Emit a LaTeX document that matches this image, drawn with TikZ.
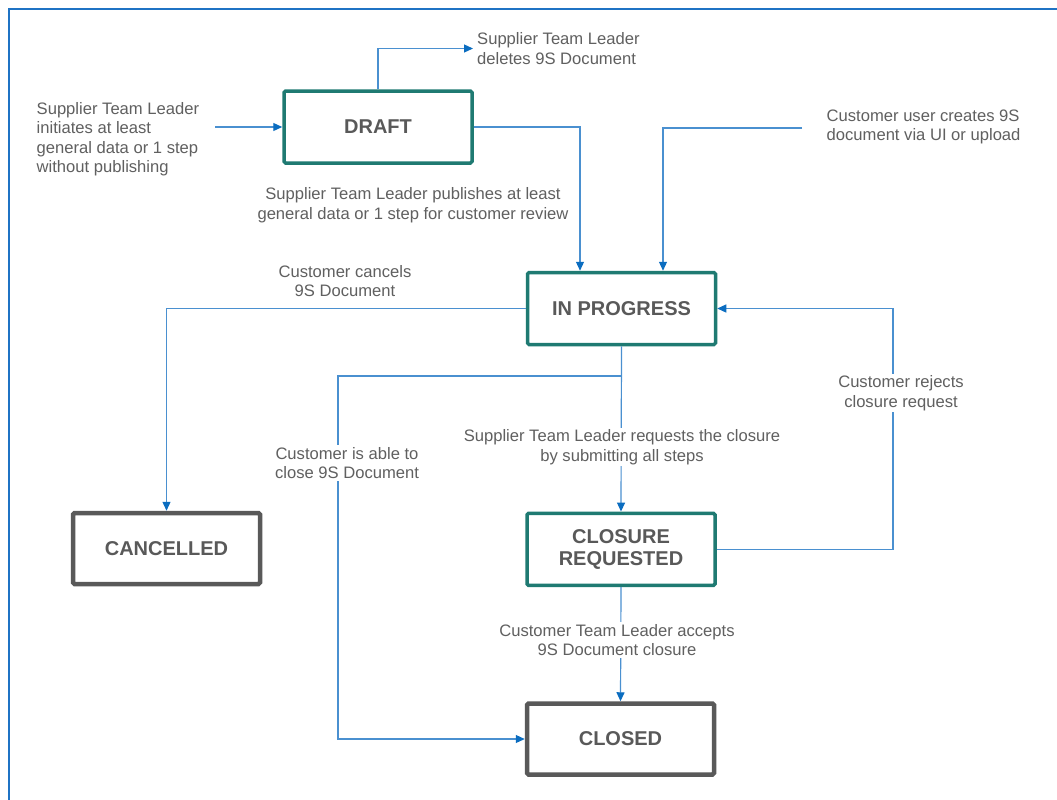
\documentclass[tikz,border=0pt]{standalone}
\usepackage{fontspec}
\setmainfont{Liberation Sans}
\usetikzlibrary{arrows.meta}
\definecolor{boxteal}{HTML}{1F7A72}
\definecolor{boxgray}{HTML}{595959}
\definecolor{titlegray}{HTML}{595959}
\definecolor{txtgray}{HTML}{606060}
\definecolor{linkblue}{HTML}{4A90D0}
\definecolor{tipblue}{HTML}{0B6DC0}
\definecolor{frameblue}{HTML}{1F73C4}
\begin{document}
\begin{tikzpicture}[x=1pt,y=-1pt,
  state/.style={draw=boxteal,line width=3.5pt,rounded corners=1.5pt,minimum width=188pt,minimum height=72pt,
    font=\fontsize{20}{23}\selectfont\bfseries,text=titlegray,align=center,inner sep=0pt},
  final/.style={state,draw=boxgray,line width=4.5pt,minimum width=187pt,minimum height=71pt},
  lbl/.style={font=\fontsize{16.6}{19.5}\selectfont,text=txtgray,align=center,inner sep=1pt},
  wlbl/.style={lbl,fill=white,inner sep=2pt},
  link/.style={draw=linkblue,line width=1.2pt,-{Triangle[length=9pt,width=8pt,color=tipblue]}}]
\useasboundingbox (0,0) rectangle (1057,800);
\fill[white] (0,0) rectangle (1057,800);
\draw[frameblue,line width=2pt] (9,801) -- (9,9.5) -- (1058,9.5);

% states
\node[state] (draft) at (378,127) {DRAFT};
\node[state] (inprog) at (621.5,308.5) {IN PROGRESS};
\node[final] (cancelled) at (166.5,548.5) {CANCELLED};
\node[state] (closreq) at (621,549.3) {CLOSURE\\[-1pt]REQUESTED};
\node[final] (closed) at (620.5,739) {CLOSED};

% free-end coordinates
\coordinate (i0) at (215,127);
\coordinate (cu0) at (802,128);
\coordinate (br) at (621.5,376);
\coordinate (bl) at (338,376);
\coordinate (rj) at (893,549.3);

% outer labels
\node[lbl,align=left,anchor=west] (initlbl) at (35.5,139) {Supplier Team Leader\\initiates at least\\general data or 1 step\\without publishing};
\node[lbl,align=left,anchor=west,inner xsep=4pt] (dellbl) at (473,48.5) {Supplier Team Leader\\deletes 9S Document};
\node[lbl] (publbl) at (413,205) {Supplier Team Leader publishes at least\\general data or 1 step for customer review};
\node[lbl,align=left,anchor=west] (culbl) at (825.5,127) {Customer user creates 9S\\document via UI or upload};
\node[lbl] (canlbl) at (345,281) {Customer cancels\\9S Document};

% connectors
\draw[link] (i0) -- (draft.west);
\draw[link] (draft.north) |- (dellbl.west);
\draw[link] (draft.east) -| ([xshift=-41.5pt]inprog.north);
\draw[link] (cu0) -| ([xshift=41.5pt]inprog.north);
\draw[link] (inprog.west) -| (cancelled.north);
\draw[link] (inprog.south) -- (closreq.north);
\draw[link] (br) -- (bl) |- (closed.west);
\draw[link] (closreq.east) -- (rj) |- (inprog.east);
\draw[link] (closreq.south) -- (closed.north);

% labels on lines
\node[wlbl] (ablelbl) at (347,463) {Customer is able to\\close 9S Document};
\node[wlbl] (reqlbl) at (622,447) {Supplier Team Leader requests the closure\\by submitting all steps};
\node[wlbl] (rejlbl) at (901,393) {Customer rejects\\closure request};
\node[wlbl] (acclbl) at (617,640) {Customer Team Leader accepts\\9S Document closure};
\end{tikzpicture}
\end{document}
